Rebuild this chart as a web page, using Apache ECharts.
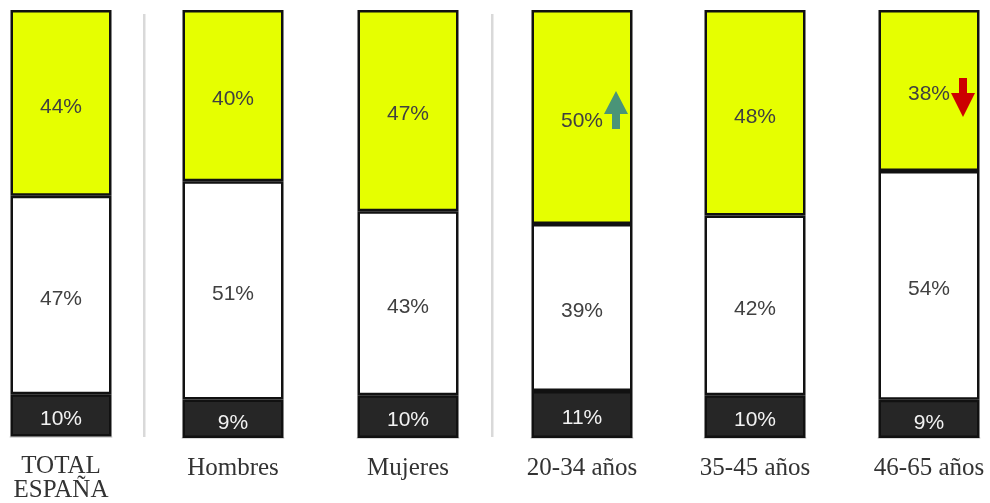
<!DOCTYPE html>
<html><head><meta charset="utf-8">
<script src="https://cdn.jsdelivr.net/npm/echarts@6/dist/echarts.min.js"></script>
<style>html,body{margin:0;padding:0;background:#fff}#c{width:990px;height:503px}</style>
</head><body><div id="c"></div>
<script>
const categories = ['TOTAL\nESPAÑA','Hombres','Mujeres','20-34 años','35-45 años','46-65 años'];
const topVals = [44,40,47,50,48,38];
const midVals = [47,51,43,39,42,54];
const botVals = [10,9,10,11,10,9];

const centers = [61,233,408,582,755,929];
const barW = 101;
const grids=[], xAxes=[], yAxes=[], series=[];
const lbl = (color)=>({show:true,position:'inside',offset:[0,4],color:color,fontSize:21,fontFamily:'Liberation Sans, Arial, sans-serif',formatter:p=>p.value+'%'});
categories.forEach((c,i)=>{
  grids.push({left:centers[i]-barW/2,width:barW,top:10,bottom:65,containLabel:false});
  xAxes.push({type:'category',gridIndex:i,data:[c],axisTick:{show:false},
    axisLine:{show:true,lineStyle:{color:'#d9d9d9',width:2}},
    axisLabel:{margin:18,color:'#333',fontSize:25,fontFamily:'Liberation Serif, Times New Roman, serif',lineHeight:24,interval:0}});
  const sum = topVals[i]+midVals[i]+botVals[i];
  yAxes.push({type:'value',gridIndex:i,min:0,max:sum,show:false,splitLine:{show:false}});
  const base = {type:'bar',xAxisIndex:i,yAxisIndex:i,stack:'s'+i,barWidth:'100%',silent:true};
  series.push(Object.assign({},base,{data:[botVals[i]],itemStyle:{color:'#262626',borderColor:'#111',borderWidth:2.5},label:lbl('#f2f2f2')}));
  series.push(Object.assign({},base,{data:[midVals[i]],itemStyle:{color:'#ffffff',borderColor:'#111',borderWidth:2.5},label:lbl('#404040')}));
  series.push(Object.assign({},base,{data:[topVals[i]],itemStyle:{color:'#e6ff00',borderColor:'#111',borderWidth:2.5},label:lbl('#404040')}));
});
const chart = echarts.init(document.getElementById('c'),null,{renderer:'canvas'});
chart.setOption({
  animation:false,
  grid:grids,xAxis:xAxes,yAxis:yAxes,series:series,
  graphic:[
    {type:'rect',z:100,shape:{x:143,y:14,width:2.5,height:423},style:{fill:'#d9d9d9'}},
    {type:'rect',z:100,shape:{x:491,y:14,width:2.5,height:423},style:{fill:'#d9d9d9'}},
    {type:'polygon',z:100,shape:{points:[[612,129],[620,129],[620,114],[628,114],[616,91],[604,114],[612,114]]},style:{fill:'#4a9478'}},
    {type:'polygon',z:100,shape:{points:[[959,78],[967,78],[967,93],[975,93],[963,117],[951,93],[959,93]]},style:{fill:'#cc0000'}}
  ]
});
</script></body></html>
